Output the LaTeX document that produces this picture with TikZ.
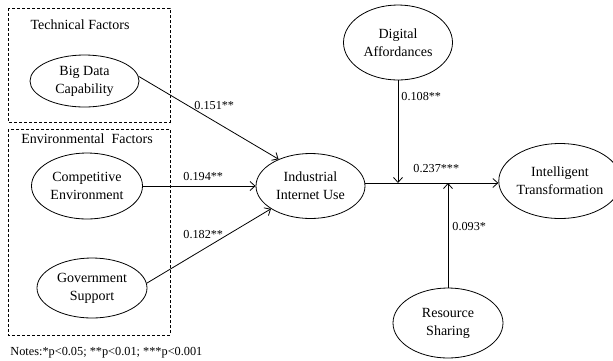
\documentclass[tikz,border=0pt]{standalone}
\usepackage{fontspec}
\setmainfont{Liberation Serif}
\usetikzlibrary{shapes.geometric, arrows.meta}

\begin{document}
\begin{tikzpicture}[x = 1pt, y = -1pt, line width = 0.8pt,
    font = \fontsize{14}{18}\selectfont,
    > = {Straight Barb[length = 5pt, width = 9pt]},
    construct/.style = {draw, ellipse, align = center, inner sep = 0pt},
    group/.style = {draw, dash pattern = on 3pt off 2pt},
    coef/.style = {anchor = west, inner sep = 0pt, font = \fontsize{12.2}{14}\selectfont}]
  \useasboundingbox (0, 0) rectangle (613, 360);
  % factor groups
  \draw[group] (8, 8) rectangle (170, 122);
  \draw[group] (8, 129) rectangle (170, 335);
  \node (tech) at (80, 25) {Technical Factors};
  \node (env) at (87, 139) {Environmental\ \ Factors};
  % constructs
  \node[construct, minimum width = 109pt, minimum height = 52pt] (bdc) at (84.5, 81) {Big Data\\Capability};
  \node[construct, minimum width = 111pt, minimum height = 66pt] (ce) at (87, 186) {Competitive\\Environment};
  \node[construct, minimum width = 110pt, minimum height = 60pt] (gs) at (92, 288) {Government\\Support};
  \node[construct, minimum width = 109pt, minimum height = 65pt] (iiu) at (310.5, 186) {Industrial\\Internet Use};
  \node[construct, minimum width = 109pt, minimum height = 75pt] (da) at (398, 42.5) {Digital\\Affordances};
  \node[construct, minimum width = 103pt, minimum height = 75pt] (it) at (560, 181) {Intelligent\\Transformation};
  \node[construct, minimum width = 110pt, minimum height = 70pt] (rs) at (448, 323) {Resource\\Sharing};
  % paths
  \coordinate (join) at (398, 183);
  \draw[->] (bdc.5) -- (iiu.140);
  \draw[->] (ce.east) -- (iiu.west);
  \draw[->] (gs.5) -- (iiu.210);
  \draw[->] (iiu.east |- join) -- (it.west |- join);
  \draw[->] (da.south) -- (join);
  \draw[->] (rs.north) -- (rs.north |- join);
  % coefficients
  \node[coef] (c1) at (194, 106) {0.151**};
  \node[coef] (c2) at (183, 177) {0.194**};
  \node[coef] (c3) at (183, 235) {0.182**};
  \node[coef] (c4) at (413, 169) {0.237***};
  \node[coef] (c5) at (401, 97) {0.108**};
  \node[coef] (c6) at (452, 227) {0.093*};
  % notes
  \node[anchor = west, inner sep = 0pt, font = \fontsize{12.3}{14}\selectfont] (notes) at (10, 353) {Notes:*p<0.05; **p<0.01; ***p<0.001};
\end{tikzpicture}
\end{document}
